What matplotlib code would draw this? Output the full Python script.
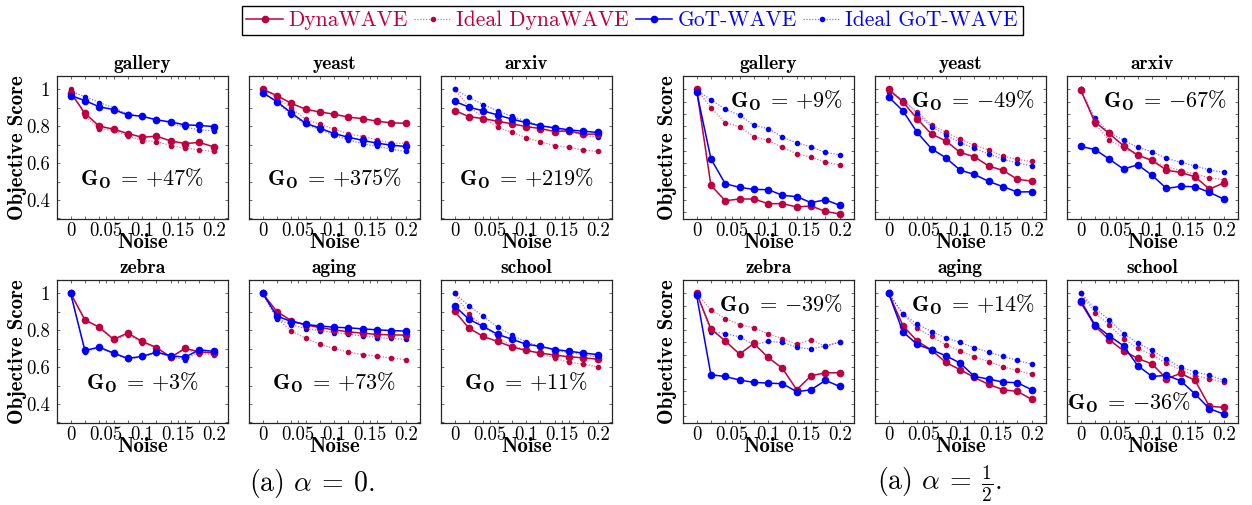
import matplotlib.pyplot as plt
from matplotlib.ticker import FixedLocator, NullFormatter, FixedFormatter
from matplotlib.lines import Line2D
from matplotlib.colors import to_rgba

plt.rcParams['font.family'] = 'serif'
plt.rcParams['font.serif'] = ['cmr10']
plt.rcParams['mathtext.fontset'] = 'cm'
plt.rcParams['axes.unicode_minus'] = False
plt.rcParams['axes.formatter.use_mathtext'] = True

noise = [0, 0.02, 0.04, 0.06, 0.08, 0.1, 0.12, 0.14, 0.16, 0.18, 0.2]
datasets = ['gallery', 'yeast', 'arxiv', 'zebra', 'aging', 'school']

# alpha = 0
a0_gallery_dyna = [0.982, 0.87, 0.80, 0.784, 0.76, 0.74, 0.746, 0.72, 0.706, 0.712, 0.688]
a0_gallery_dyna_ideal = [1.0, 0.856, 0.786, 0.778, 0.748, 0.722, 0.717, 0.695, 0.68, 0.672, 0.663]
a0_gallery_got = [0.966, 0.939, 0.905, 0.89, 0.861, 0.854, 0.834, 0.823, 0.807, 0.804, 0.798]
a0_gallery_got_ideal = [0.99, 0.96, 0.928, 0.90, 0.867, 0.852, 0.838, 0.816, 0.795, 0.78, 0.775]

a0_yeast_dyna = [1.0, 0.966, 0.924, 0.892, 0.877, 0.865, 0.849, 0.841, 0.827, 0.818, 0.816]
a0_yeast_dyna_ideal = [1.0, 0.957, 0.897, 0.838, 0.81, 0.784, 0.759, 0.744, 0.726, 0.708, 0.708]
a0_yeast_got = [0.982, 0.933, 0.872, 0.816, 0.789, 0.76, 0.74, 0.723, 0.708, 0.697, 0.69]
a0_yeast_got_ideal = [0.982, 0.93, 0.861, 0.81, 0.782, 0.751, 0.726, 0.705, 0.69, 0.676, 0.663]

a0_arxiv_dyna = [0.885, 0.852, 0.841, 0.827, 0.813, 0.798, 0.787, 0.771, 0.775, 0.757, 0.757]
a0_arxiv_dyna_ideal = [1.0, 0.906, 0.847, 0.793, 0.768, 0.737, 0.715, 0.695, 0.686, 0.67, 0.663]
a0_arxiv_got = [0.935, 0.903, 0.883, 0.861, 0.838, 0.82, 0.802, 0.791, 0.78, 0.773, 0.766]
a0_arxiv_got_ideal = [1.0, 0.957, 0.917, 0.883, 0.854, 0.827, 0.805, 0.787, 0.769, 0.753, 0.739]

a0_zebra_dyna = [1.0, 0.856, 0.816, 0.751, 0.784, 0.739, 0.706, 0.654, 0.701, 0.683, 0.676]
a0_zebra_dyna_ideal = [1.0, 0.856, 0.816, 0.748, 0.775, 0.733, 0.704, 0.65, 0.698, 0.673, 0.668]
a0_zebra_got = [1.0, 0.69, 0.708, 0.676, 0.647, 0.658, 0.681, 0.661, 0.654, 0.694, 0.685]
a0_zebra_got_ideal = [1.0, 0.683, 0.705, 0.672, 0.643, 0.654, 0.679, 0.656, 0.64, 0.685, 0.678]

a0_aging_dyna = [1.0, 0.901, 0.852, 0.829, 0.814, 0.802, 0.791, 0.784, 0.777, 0.775, 0.773]
a0_aging_dyna_ideal = [1.0, 0.865, 0.796, 0.757, 0.724, 0.701, 0.681, 0.668, 0.658, 0.65, 0.64]
a0_aging_got = [1.0, 0.877, 0.847, 0.831, 0.823, 0.816, 0.813, 0.807, 0.802, 0.798, 0.795]
a0_aging_got_ideal = [1.0, 0.863, 0.829, 0.809, 0.798, 0.787, 0.778, 0.769, 0.76, 0.755, 0.75]

a0_school_dyna = [0.903, 0.811, 0.766, 0.739, 0.71, 0.69, 0.676, 0.665, 0.656, 0.65, 0.643]
a0_school_dyna_ideal = [1.0, 0.886, 0.823, 0.762, 0.715, 0.694, 0.672, 0.649, 0.625, 0.616, 0.602]
a0_school_got = [0.932, 0.859, 0.82, 0.778, 0.751, 0.724, 0.712, 0.695, 0.686, 0.676, 0.668]
a0_school_got_ideal = [1.0, 0.933, 0.876, 0.816, 0.773, 0.737, 0.712, 0.69, 0.679, 0.668, 0.654]

# alpha = 1/2
a1_gallery_dyna = [1.0, 0.217, 0.092, 0.106, 0.106, 0.068, 0.068, 0.041, 0.049, 0.005, -0.016]
a1_gallery_dyna_ideal = [1.0, 0.851, 0.729, 0.694, 0.615, 0.583, 0.526, 0.474, 0.447, 0.407, 0.382]
a1_gallery_got = [0.981, 0.434, 0.23, 0.201, 0.184, 0.182, 0.136, 0.125, 0.076, 0.10, 0.054]
a1_gallery_got_ideal = [0.99, 0.916, 0.837, 0.789, 0.707, 0.68, 0.61, 0.564, 0.531, 0.485, 0.466]

a1_yeast_dyna = [1.0, 0.897, 0.759, 0.634, 0.58, 0.485, 0.45, 0.374, 0.339, 0.266, 0.252]
a1_yeast_dyna_ideal = [1.0, 0.908, 0.818, 0.71, 0.65, 0.593, 0.542, 0.507, 0.455, 0.428, 0.412]
a1_yeast_got = [0.938, 0.824, 0.648, 0.515, 0.442, 0.341, 0.306, 0.249, 0.206, 0.163, 0.165]
a1_yeast_got_ideal = [0.98, 0.913, 0.80, 0.696, 0.626, 0.566, 0.518, 0.474, 0.428, 0.401, 0.374]

a1_arxiv_dyna = [0.995, 0.734, 0.64, 0.539, 0.463, 0.42, 0.341, 0.322, 0.287, 0.187, 0.236]
a1_arxiv_dyna_ideal = [1.0, 0.718, 0.585, 0.523, 0.461, 0.415, 0.371, 0.336, 0.309, 0.279, 0.263]
a1_arxiv_got = [0.534, 0.509, 0.431, 0.35, 0.385, 0.298, 0.192, 0.209, 0.206, 0.16, 0.106]
a1_arxiv_got_ideal = [1.0, 0.767, 0.648, 0.585, 0.526, 0.491, 0.436, 0.407, 0.374, 0.344, 0.322]

a1_zebra_dyna = [1.0, 0.71, 0.612, 0.504, 0.591, 0.477, 0.388, 0.214, 0.328, 0.352, 0.352]
a1_zebra_dyna_ideal = [1.0, 0.862, 0.794, 0.745, 0.718, 0.669, 0.631, 0.583, 0.621, 0.569, 0.604]
a1_zebra_got = [0.984, 0.336, 0.322, 0.293, 0.274, 0.268, 0.263, 0.198, 0.214, 0.29, 0.241]
a1_zebra_got_ideal = [1.0, 0.688, 0.672, 0.645, 0.58, 0.607, 0.599, 0.561, 0.545, 0.572, 0.599]

a1_aging_dyna = [1.0, 0.737, 0.61, 0.537, 0.436, 0.377, 0.314, 0.257, 0.214, 0.20, 0.136]
a1_aging_dyna_ideal = [1.0, 0.832, 0.713, 0.648, 0.58, 0.531, 0.48, 0.444, 0.401, 0.371, 0.339]
a1_aging_got = [1.0, 0.686, 0.583, 0.539, 0.491, 0.431, 0.322, 0.301, 0.276, 0.271, 0.214]
a1_aging_got_ideal = [1.0, 0.832, 0.748, 0.688, 0.637, 0.599, 0.556, 0.52, 0.485, 0.453, 0.423]

a1_school_dyna = [0.927, 0.734, 0.621, 0.531, 0.469, 0.423, 0.304, 0.347, 0.29, 0.079, 0.07]
a1_school_dyna_ideal = [1.0, 0.843, 0.74, 0.629, 0.55, 0.499, 0.428, 0.377, 0.328, 0.304, 0.274]
a1_school_got = [0.94, 0.743, 0.653, 0.572, 0.409, 0.322, 0.331, 0.287, 0.179, 0.06, 0.016]
a1_school_got_ideal = [1.0, 0.878, 0.783, 0.672, 0.593, 0.534, 0.463, 0.396, 0.358, 0.333, 0.29]

a0_gains = ['+', '+', '+', '+', '+', '+']
a0_gains_num = ['47', '375', '219', '3', '73', '11']
a1_gains = ['+', '-', '-', '-', '+', '-']
a1_gains_num = ['9', '49', '67', '39', '14', '36']

series_names = ['DynaWAVE', 'Ideal DynaWAVE', 'GoT-WAVE', 'Ideal GoT-WAVE']
red = '#BF0040'
blue = '#0000FF'

g = globals()
groups = {}
for pre in ['a0', 'a1']:
    groups[pre] = [[g[f'{pre}_{d}_dyna'], g[f'{pre}_{d}_dyna_ideal'],
                    g[f'{pre}_{d}_got'], g[f'{pre}_{d}_got_ideal']] for d in datasets]

W, H = 1252, 505
fig = plt.figure(figsize=(W / 100, H / 100), dpi=100)

col_x = {'a0': [57, 249, 441], 'a1': [683, 875, 1067]}
row_top = [76, 280]
aw, ah = 171, 143


def draw(ax, ys):
    dyna, dyna_i, got, got_i = ys
    ax.plot(noise, dyna, color=red, lw=1.1, marker='o', ms=4.5, zorder=3)
    ax.plot(noise, dyna_i, color=to_rgba(red, 0.55), ls=(0, (1, 1.3)), lw=0.9,
            marker='o', ms=3.0, mfc=red, mec=red, zorder=2)
    ax.plot(noise, got, color=blue, lw=1.1, marker='o', ms=4.5, zorder=3)
    ax.plot(noise, got_i, color=to_rgba(blue, 0.55), ls=(0, (1, 1.3)), lw=0.9,
            marker='o', ms=3.0, mfc=blue, mec=blue, zorder=2)


for pre in ['a0', 'a1']:
    for i, d in enumerate(datasets):
        r, c = divmod(i, 3)
        x0 = col_x[pre][c]
        top = row_top[r]
        ax = fig.add_axes([x0 / W, (H - top - ah) / H, aw / W, ah / H])
        draw(ax, groups[pre][i])
        ax.set_xlim(-0.019, 0.22)
        ax.xaxis.set_major_locator(FixedLocator([0, 0.05, 0.1, 0.15, 0.2]))
        ax.xaxis.set_major_formatter(FixedFormatter(['0', '0.05', '0.1', '0.15', '0.2']))
        ax.xaxis.set_minor_locator(FixedLocator(noise))
        if pre == 'a0':
            ax.set_ylim(0.297, 1.072)
            ax.yaxis.set_major_locator(FixedLocator([0.4, 0.6, 0.8, 1.0]))
            ax.yaxis.set_major_formatter(FixedFormatter(['0.4', '0.6', '0.8', '1']))
            ax.yaxis.set_minor_locator(FixedLocator([0.3, 0.5, 0.7, 0.9]))
            if c != 0:
                ax.yaxis.set_major_formatter(NullFormatter())
        else:
            ax.set_ylim(-0.057, 1.108)
            ax.yaxis.set_major_locator(FixedLocator([k / 10 for k in range(11)]))
            ax.yaxis.set_major_formatter(NullFormatter())
        ax.tick_params(which='both', direction='in', top=True, right=True,
                       length=2.5, width=0.6, color='0.3', labelsize=13.5)
        ax.tick_params(axis='x', pad=2.0)
        ax.tick_params(axis='y', pad=5)
        for s in ax.spines.values():
            s.set_linewidth(0.9)
            s.set_color('0.15')
        ax.set_title(d, fontfamily='cmb10', fontsize=14, pad=5)
        ax.set_xlabel('Noise', fontfamily='cmb10', fontsize=15)
        ax.xaxis.set_label_coords(0.5, -0.1)
        if c == 0:
            ax.set_ylabel('Objective Score', fontfamily='cmb10', fontsize=15)
            ax.yaxis.set_label_coords(-0.175 if pre == 'a0' else -0.035, 0.5)

        sign = g[f'{pre}_gains'][i]
        num = g[f'{pre}_gains_num'][i]
        label = r'$\mathbf{G_O}\;=\,$' + '$' + sign + r'\mathbf{' + num + r'}\%$'
        if pre == 'a0':
            ax.text(0.5, 0.28, label, transform=ax.transAxes, ha='center', va='center', fontsize=16)
        elif d == 'school':
            ax.text(0.0, 0.14, label, transform=ax.transAxes, ha='left', va='center', fontsize=16)
        else:
            ax.text(0.936, 0.83, label, transform=ax.transAxes, ha='right', va='center', fontsize=16)

handles = [
    Line2D([], [], color=red, lw=1.1, marker='o', ms=4.5),
    Line2D([], [], color=to_rgba(red, 0.55), ls=(0, (1, 1.3)), lw=0.9, marker='o', ms=3.0, mfc=red, mec=red),
    Line2D([], [], color=blue, lw=1.1, marker='o', ms=4.5),
    Line2D([], [], color=to_rgba(blue, 0.55), ls=(0, (1, 1.3)), lw=0.9, marker='o', ms=3.0, mfc=blue, mec=blue),
]
leg = fig.legend(handles, series_names, loc='upper center', bbox_to_anchor=(0.505, 0.997),
                 ncol=4, fontsize=15.5, frameon=True, fancybox=False, edgecolor='black',
                 framealpha=1, handlelength=1.7, handletextpad=0.25, columnspacing=0.3,
                 borderpad=0.22, borderaxespad=0.2)
leg.get_frame().set_linewidth(1.0)
for t, col in zip(leg.get_texts(), [red, red, blue, blue]):
    t.set_color(col)

fig.text(312 / W, 1 - 484 / H, r'(a) $\alpha\:=\:0$.', ha='center', va='center', fontsize=20)
fig.text(940 / W, 1 - 484 / H, r'(a) $\alpha\:=\:\frac{1}{2}$.', ha='center', va='center', fontsize=20)

fig.savefig('out.png', dpi=100)
